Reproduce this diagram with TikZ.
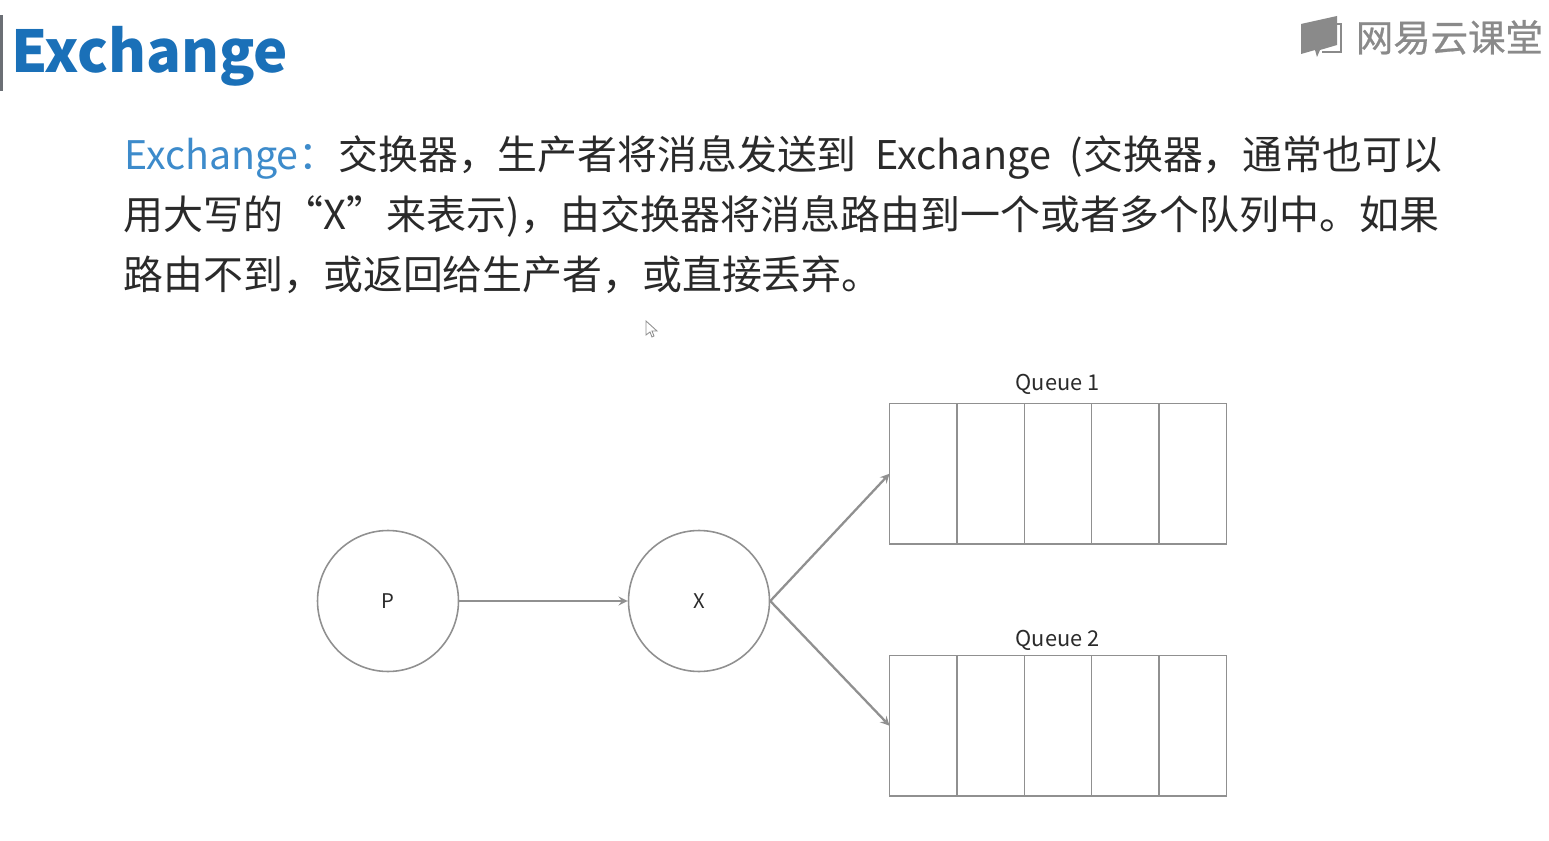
\documentclass[tikz,border=0pt]{standalone}
\usepackage{fontspec}
\setmainfont{Noto Sans CJK SC}
\newfontfamily\logofont[FakeBold=0.6]{Noto Sans CJK SC}
\usetikzlibrary{positioning}

\definecolor{titleblue}{HTML}{1A70B8}
\definecolor{leadblue}{HTML}{3D8BCB}
\definecolor{bodyink}{HTML}{2A2A2A}
\definecolor{lineGray}{HTML}{909090}
\definecolor{logoGray}{HTML}{8A8A8A}

\begin{document}
\begin{tikzpicture}[
        x=0.02cm, y=-0.02cm,
        node distance=0pt,
        textline/.style={anchor=base west, inner sep=0pt, text=bodyink, font=\fontsize{22.76pt}{26pt}\selectfont},
        circlenode/.style={circle, draw=lineGray, line width=0.9pt, minimum size=2.82cm, inner sep=0pt, text=bodyink, font=\fontsize{11.5pt}{14pt}\selectfont},
        cell/.style={rectangle, draw=lineGray, line width=0.9pt, minimum width=1.348cm, minimum height=2.81cm, outer sep=0pt},
        qlabel/.style={inner sep=0pt, text=bodyink, font=\fontsize{12.4pt}{15pt}\selectfont},
        link/.style={->, >=stealth, draw=lineGray, line width=1.3pt}
      ]
      \useasboundingbox (0,0) rectangle (1549,841);

      % title
      \fill[color={rgb,255:red,107;green,111;blue,117}] (0,15) rectangle (3,91);
      \node[anchor=base west, inner sep=0pt, text=titleblue, font=\fontsize{32.9pt}{40pt}\selectfont\bfseries] (title) at (11,72.5) {Exchange};

      % logo
      \fill[logoGray] (1301,24) -- (1337,16) -- (1337,45) -- (1320,50) -- (1317,57) -- (1315,50) -- (1301,54) -- cycle;
      \draw[logoGray, line width=0.9pt] (1337,24) -- (1341,24) -- (1341,52) -- (1322,52);
      \node[anchor=base west, inner sep=0pt, text=logoGray, font=\fontsize{21.3pt}{24pt}\logofont] (logo) at (1355.5,51.5) {网易云课堂};

      % text
      \node[textline, text=leadblue, font=\fontsize{22.4pt}{26pt}\selectfont] (lead) at (124,169.5) {Exchange：};
      \node[textline, font=\fontsize{22.7pt}{26pt}\selectfont] (line1a) at (338,169.5) {交换器，生产者将消息发送到};
      \node[textline, font=\fontsize{22.5pt}{26pt}\selectfont] (line1b) at (875.5,169.5) {Exchange};
      \node[textline, font=\fontsize{22.7pt}{26pt}\selectfont] (line1c) at (1069.5,169.5) {(交换器，通常也可以};
      \node[textline] (line2) at (123.5,230) {用大写的“X”来表示)，由交换器将消息路由到一个或者多个队列中。如果};
      \node[textline, font=\fontsize{22.7pt}{26pt}\selectfont] (line3) at (123.5,290) {路由不到，或返回给生产者，或直接丢弃。};

      % pointer
      \draw[lineGray, fill=white, line width=0.5pt] (646,321) -- (646,335) -- (650,332) -- (652,337) -- (654,336) -- (652,331) -- (657,331) -- cycle;

      % nodes
      \node[circlenode] (P) at (388,601) {P};
      \node[circlenode] (X) at (699,601) {X};

      \node[cell] (q1a) at (923.2,473.7) {};
      \node[cell, right=of q1a] (q1b) {};
      \node[cell, right=of q1b] (q1c) {};
      \node[cell, right=of q1c] (q1d) {};
      \node[cell, right=of q1d] (q1e) {};
      \node[qlabel] (q1label) at (1057.5,384) {Queue 1};

      \node[cell] (q2a) at (923.2,725.7) {};
      \node[cell, right=of q2a] (q2b) {};
      \node[cell, right=of q2b] (q2c) {};
      \node[cell, right=of q2c] (q2d) {};
      \node[cell, right=of q2d] (q2e) {};
      \node[qlabel] (q2label) at (1057.5,640) {Queue 2};

      % connectors
      \draw[link] (P) -- (X);
      \draw[link] (X.east) -- (q1a.west);
      \draw[link] (X.east) -- (q2a.west);
      \end{tikzpicture}
\end{document}
